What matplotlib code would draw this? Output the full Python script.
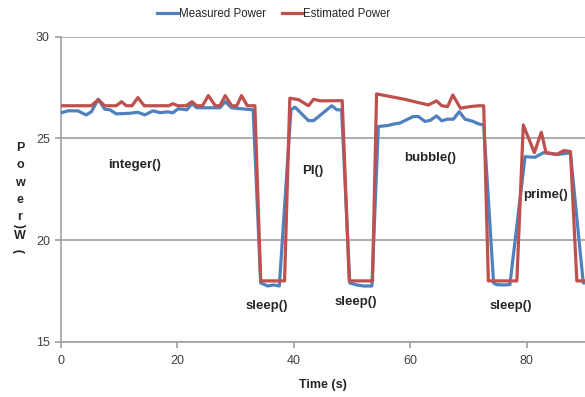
import matplotlib
matplotlib.use("Agg")
import matplotlib.pyplot as plt

plt.rcParams['font.family'] = ['Liberation Sans', 'DejaVu Sans']

# Measured power (blue)
meas_t = [0, 1.2, 2.9, 4.3, 5.2, 6.4, 7.5, 8.4, 9.5, 11.8, 13.2, 14.4, 15.8, 17.0, 18.4,
          19.2, 20.1, 21.6, 22.5, 23.3, 25.3, 27.3, 28.2, 29.3, 31.0, 33.0,
          34.3, 35.5, 36.5, 37.5,
          39.5, 40.2, 42.5, 43.4, 46.5, 47.4, 48.2,
          49.6, 50.8, 52.0, 53.4,
          54.5, 56.2, 57.1, 58.2, 60.5, 61.4, 62.5, 63.4, 64.5, 65.4, 66.4, 67.4, 68.4,
          69.4, 70.8, 71.7, 72.6,
          74.3, 74.8, 76.0, 77.1,
          79.7, 81.4, 82.9, 85.2, 86.9, 87.5,
          89.7, 90]
meas_p = [26.25, 26.35, 26.35, 26.15, 26.3, 26.92, 26.43, 26.4, 26.2, 26.23, 26.28, 26.15, 26.35, 26.26, 26.3,
          26.25, 26.45, 26.4, 26.7, 26.5, 26.5, 26.5, 26.8, 26.5, 26.45, 26.4,
          17.9, 17.75, 17.8, 17.75,
          26.4, 26.53, 25.87, 25.87, 26.6, 26.4, 26.4,
          17.9, 17.8, 17.75, 17.75,
          25.58, 25.63, 25.7, 25.75, 26.07, 26.07, 25.83, 25.88, 26.1, 25.86, 25.94, 25.94, 26.31,
          25.94, 25.83, 25.71, 25.66,
          17.9, 17.82, 17.8, 17.82,
          24.1, 24.07, 24.3, 24.2, 24.27, 24.27,
          17.9, 17.9]

# Estimated power (red)
est_t = [0, 5.2, 6.4, 7.5, 9.5, 10.4, 11.2, 12.2, 13.2, 14.3, 18.5, 19.2, 20.1, 21.5,
         22.5, 23.3, 24.3, 25.3, 26.5, 27.3, 28.2, 29.3, 30.2, 31.0, 32.0, 33.3,
         34.3, 38.4,
         39.3, 40.8, 42.5, 43.4, 44.5, 48.3,
         49.5, 53.5,
         54.2, 58.8, 63.1, 64.5, 65.4, 66.4, 67.3, 68.6, 70.3, 71.7, 72.6,
         73.4, 78.3,
         79.4, 81.3, 82.5, 83.3, 85.2, 86.4, 87.5,
         88.6, 90]
est_p = [26.6, 26.6, 26.9, 26.6, 26.6, 26.8, 26.6, 26.6, 27.0, 26.6, 26.6, 26.7, 26.6, 26.6,
         26.8, 26.6, 26.6, 27.1, 26.6, 26.6, 27.1, 26.6, 26.6, 27.1, 26.6, 26.6,
         18.0, 18.0,
         26.97, 26.9, 26.6, 26.92, 26.84, 26.85,
         18.0, 18.0,
         27.18, 26.93, 26.64, 26.84, 26.6, 26.56, 27.13, 26.48, 26.56, 26.6, 26.6,
         18.0, 18.0,
         25.66, 24.3, 25.3, 24.3, 24.22, 24.4, 24.35,
         18.0, 18.0]

labels = ["integer()", "PI()", "bubble()", "prime()", "sleep()", "sleep()", "sleep()"]
label_t = [12.7, 43.3, 63.4, 83.2, 35.4, 50.7, 77.3]
label_p = [23.7, 23.4, 24.05, 22.2, 16.75, 16.95, 16.75]

x_ticks = [0, 20, 40, 60, 80]
y_ticks = [15, 20, 25, 30]

W, H = 585, 397
fig = plt.figure(figsize=(W / 100, H / 100), dpi=100)
ax = fig.add_axes([61 / W, (H - 342) / H, (585 - 61) / W, (342 - 36.5) / H])

blue = '#4F81BD'
red = '#C0504D'
grid_c = '#A0A0A0'
text_c = '#404040'

ax.plot(meas_t, meas_p, color=blue, lw=2.3, label='Measured Power', solid_joinstyle='round', zorder=3)
ax.plot(est_t, est_p, color=red, lw=2.3, label='Estimated Power', solid_joinstyle='round', zorder=4)

ax.set_xlim(0, 90)
ax.set_ylim(15, 30)
ax.set_xticks(x_ticks)
ax.set_yticks(y_ticks)
ax.yaxis.grid(True, color=grid_c, lw=1.2)
ax.set_axisbelow(True)
for s in ['top', 'right']:
    ax.spines[s].set_visible(False)
for s in ['left', 'bottom']:
    ax.spines[s].set_color(grid_c)
    ax.spines[s].set_linewidth(1.2)
ax.tick_params(axis='both', colors=grid_c, length=4, width=1.2, labelsize=9,
               labelcolor=text_c, direction='out', pad=4)
ax.tick_params(axis='x', pad=5)

for s, t, p in zip(labels, label_t, label_p):
    ax.text(t, p, s, ha='center', va='center', fontsize=9.5, fontweight='bold', color='#262626')

ax.set_xlabel('Time (s)', fontsize=9, fontweight='bold', color='#262626', labelpad=9)

# stacked vertical y label
chars = ['P', 'o', 'w', 'e', 'r', '(', 'W', ')']
ys = [148, 165, 183, 200, 217, 226, 236, 251]
for c, yp in zip(chars, ys):
    rot = 90 if c in '()' else 0
    fig.text(20 / W, 1 - yp / H, c, ha='center', va='center', fontsize=9,
             fontweight='bold', color='#262626', rotation=rot)

fig.legend(loc='upper center', bbox_to_anchor=(274 / W, 1.0), ncol=2, frameon=False,
           fontsize=8.3, handlelength=1.8, handletextpad=0.05, columnspacing=1.4,
           labelcolor='#262626', borderaxespad=0.3)

fig.savefig('out.png', dpi=100)
